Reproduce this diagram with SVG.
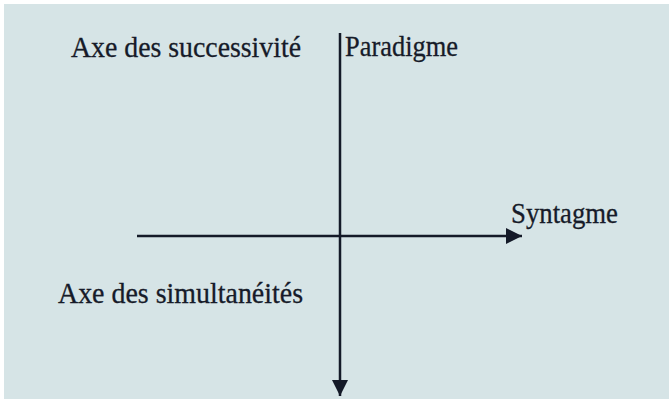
<svg xmlns="http://www.w3.org/2000/svg" width="669" height="399" viewBox="0 0 669 399">
<style>
text{font-family:'Liberation Serif','Times New Roman','DejaVu Serif',serif;font-size:30px;fill:#161b29;stroke:#161b29;stroke-width:0.3}
.ax{stroke:#141a28;stroke-width:2.5;fill:none}
</style>
<defs>
<marker id="ah" markerUnits="userSpaceOnUse" markerWidth="18" markerHeight="18" refX="16" refY="8" orient="auto">
<path d="M0,0 L16,8 L0,16 Z" fill="#141a28"/>
</marker>
</defs>
<rect x="0" y="0" width="669" height="399" fill="#ffffff"/>
<rect x="4" y="4" width="665" height="395" fill="#d6e4e6"/>
<g id="connectors">
<line class="ax" x1="137" y1="236" x2="522" y2="236" marker-end="url(#ah)"/>
<line class="ax" x1="340" y1="33" x2="340" y2="396" marker-end="url(#ah)"/>
</g>
<g id="axe-successivite"><text font-family="Liberation Serif, serif" x="71" y="57" textLength="230" lengthAdjust="spacingAndGlyphs">Axe des successivité</text></g>
<g id="paradigme"><text font-family="Liberation Serif, serif" x="345" y="56" textLength="113" lengthAdjust="spacingAndGlyphs">Paradigme</text></g>
<g id="syntagme"><text font-family="Liberation Serif, serif" x="511" y="223" textLength="107" lengthAdjust="spacingAndGlyphs">Syntagme</text></g>
<g id="axe-simultaneites"><text font-family="Liberation Serif, serif" x="58" y="303" textLength="245" lengthAdjust="spacingAndGlyphs">Axe des simultanéités</text></g>
</svg>
